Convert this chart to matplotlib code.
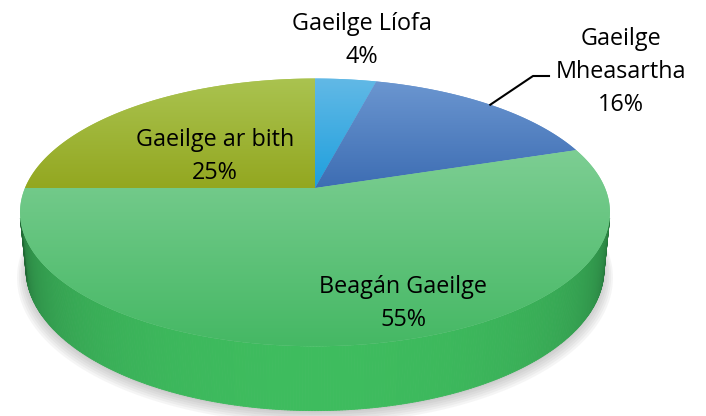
import numpy as np
import matplotlib.pyplot as plt
from matplotlib.patches import Polygon
from matplotlib.collections import PolyCollection
from matplotlib.colors import to_rgb, LinearSegmentedColormap

plt.rcParams['font.family'] = ['Open Sans', 'DejaVu Sans']

# data
labels = ["Gaeilge Líofa", "Gaeilge\nMheasartha", "Beagán Gaeilge", "Gaeilge ar bith"]
shares = [4, 16, 55, 25]
top_light = ["#62B9E6", "#6B96D0", "#7DCE93", "#AAC350"]
top_dark = ["#1E9FDD", "#3D6DB3", "#45B864", "#93A720"]
side_light = "#3EBC5E"
side_dark = "#1F6232"

# where the labels sit (pixels): centre x, baseline of the first line
label_pos = [(362, 30), (621, 45), (403, 293), (215, 146)]
line_step = 33

# camera for the 3d look
elev = np.radians(26.5)
ce, se = np.cos(elev), np.sin(elev)
dist = 5.49 * ce
depth = 0.22
scale = 1425
cx, cy = 315, 188


def project(X, Y, Z):
    d = dist + Y * ce - Z * se
    return cx + scale * X / d, cy - scale * (Y * se + Z * ce) / d


fig = plt.figure(figsize=(7.06, 4.16), dpi=100)
ax = fig.add_axes([0, 0, 1, 1])
ax.set_xlim(0, 706)
ax.set_ylim(416, 0)
ax.axis("off")

# soft shadow under the pie
t = np.linspace(0, 2 * np.pi, 400)
for k in range(6):
    grow = 1.0 + 0.006 * k
    sx, sy = project(grow * np.sin(t), grow * np.cos(t), -depth)
    ax.fill(sx, sy + 2 + k, color="0.3", alpha=0.05, lw=0, zorder=1)

# side wall, shaded by how much it faces the viewer
edges = np.linspace(0, 2 * np.pi, 721)
quads, cols = [], []
for a0, a1 in zip(edges[:-1], edges[1:]):
    am = 0.5 * (a0 + a1)
    face = -1 - dist * ce * np.cos(am)
    if face <= 0:
        continue
    x0, y0 = project(np.sin(a0), np.cos(a0), 0)
    x1, y1 = project(np.sin(a1), np.cos(a1), 0)
    x2, y2 = project(np.sin(a1), np.cos(a1), -depth)
    x3, y3 = project(np.sin(a0), np.cos(a0), -depth)
    quads.append([(x0, y0), (x1, y1), (x2, y2), (x3, y3)])
    f = min(face / (dist * ce - 1), 1) ** 0.45
    c = np.array(to_rgb(side_dark)) + f * (np.array(to_rgb(side_light)) - np.array(to_rgb(side_dark)))
    cols.append(c)
ax.add_collection(PolyCollection(quads, facecolors=cols, edgecolors=cols, lw=0.6, zorder=2))

# top surface wedges, clockwise from 12 o'clock
bounds = np.concatenate([[0], np.cumsum(shares)]) / sum(shares) * 2 * np.pi
for i in range(len(shares)):
    tt = np.linspace(bounds[i], bounds[i + 1], 200)
    px, py = project(np.sin(tt), np.cos(tt), 0)
    pts = np.column_stack([np.r_[cx, px], np.r_[cy, py]])
    poly = Polygon(pts, closed=True, facecolor=top_light[i], edgecolor="none", zorder=3)
    ax.add_patch(poly)
    cmap = LinearSegmentedColormap.from_list("w%d" % i, [top_light[i], top_dark[i]])
    grad = np.linspace(0, 1, 256).reshape(-1, 1)
    im = ax.imshow(grad, extent=(pts[:, 0].min(), pts[:, 0].max(), pts[:, 1].max(), pts[:, 1].min()),
                   origin="upper", cmap=cmap, aspect="auto", zorder=4, interpolation="bilinear")
    im.set_clip_path(poly)

ax.set_xlim(0, 706)
ax.set_ylim(416, 0)

# labels, one text per line so every baseline is placed
for i in range(len(shares)):
    x, y0 = label_pos[i]
    lines = labels[i].split("\n") + ["%d%%" % shares[i]]
    for j, line in enumerate(lines):
        ax.text(x, y0 + j * line_step, line, ha="center", va="baseline",
                fontsize=16.8, color="black", zorder=6)

# leader line for the Mheasartha label
mid = 0.5 * (bounds[1] + bounds[2])
lx, ly = project(np.sin(mid), np.cos(mid), 0)
ax.plot([lx, 533, 549], [ly, 76, 76], color="black", lw=1.5, zorder=5)

fig.savefig("out.png", dpi=100)
